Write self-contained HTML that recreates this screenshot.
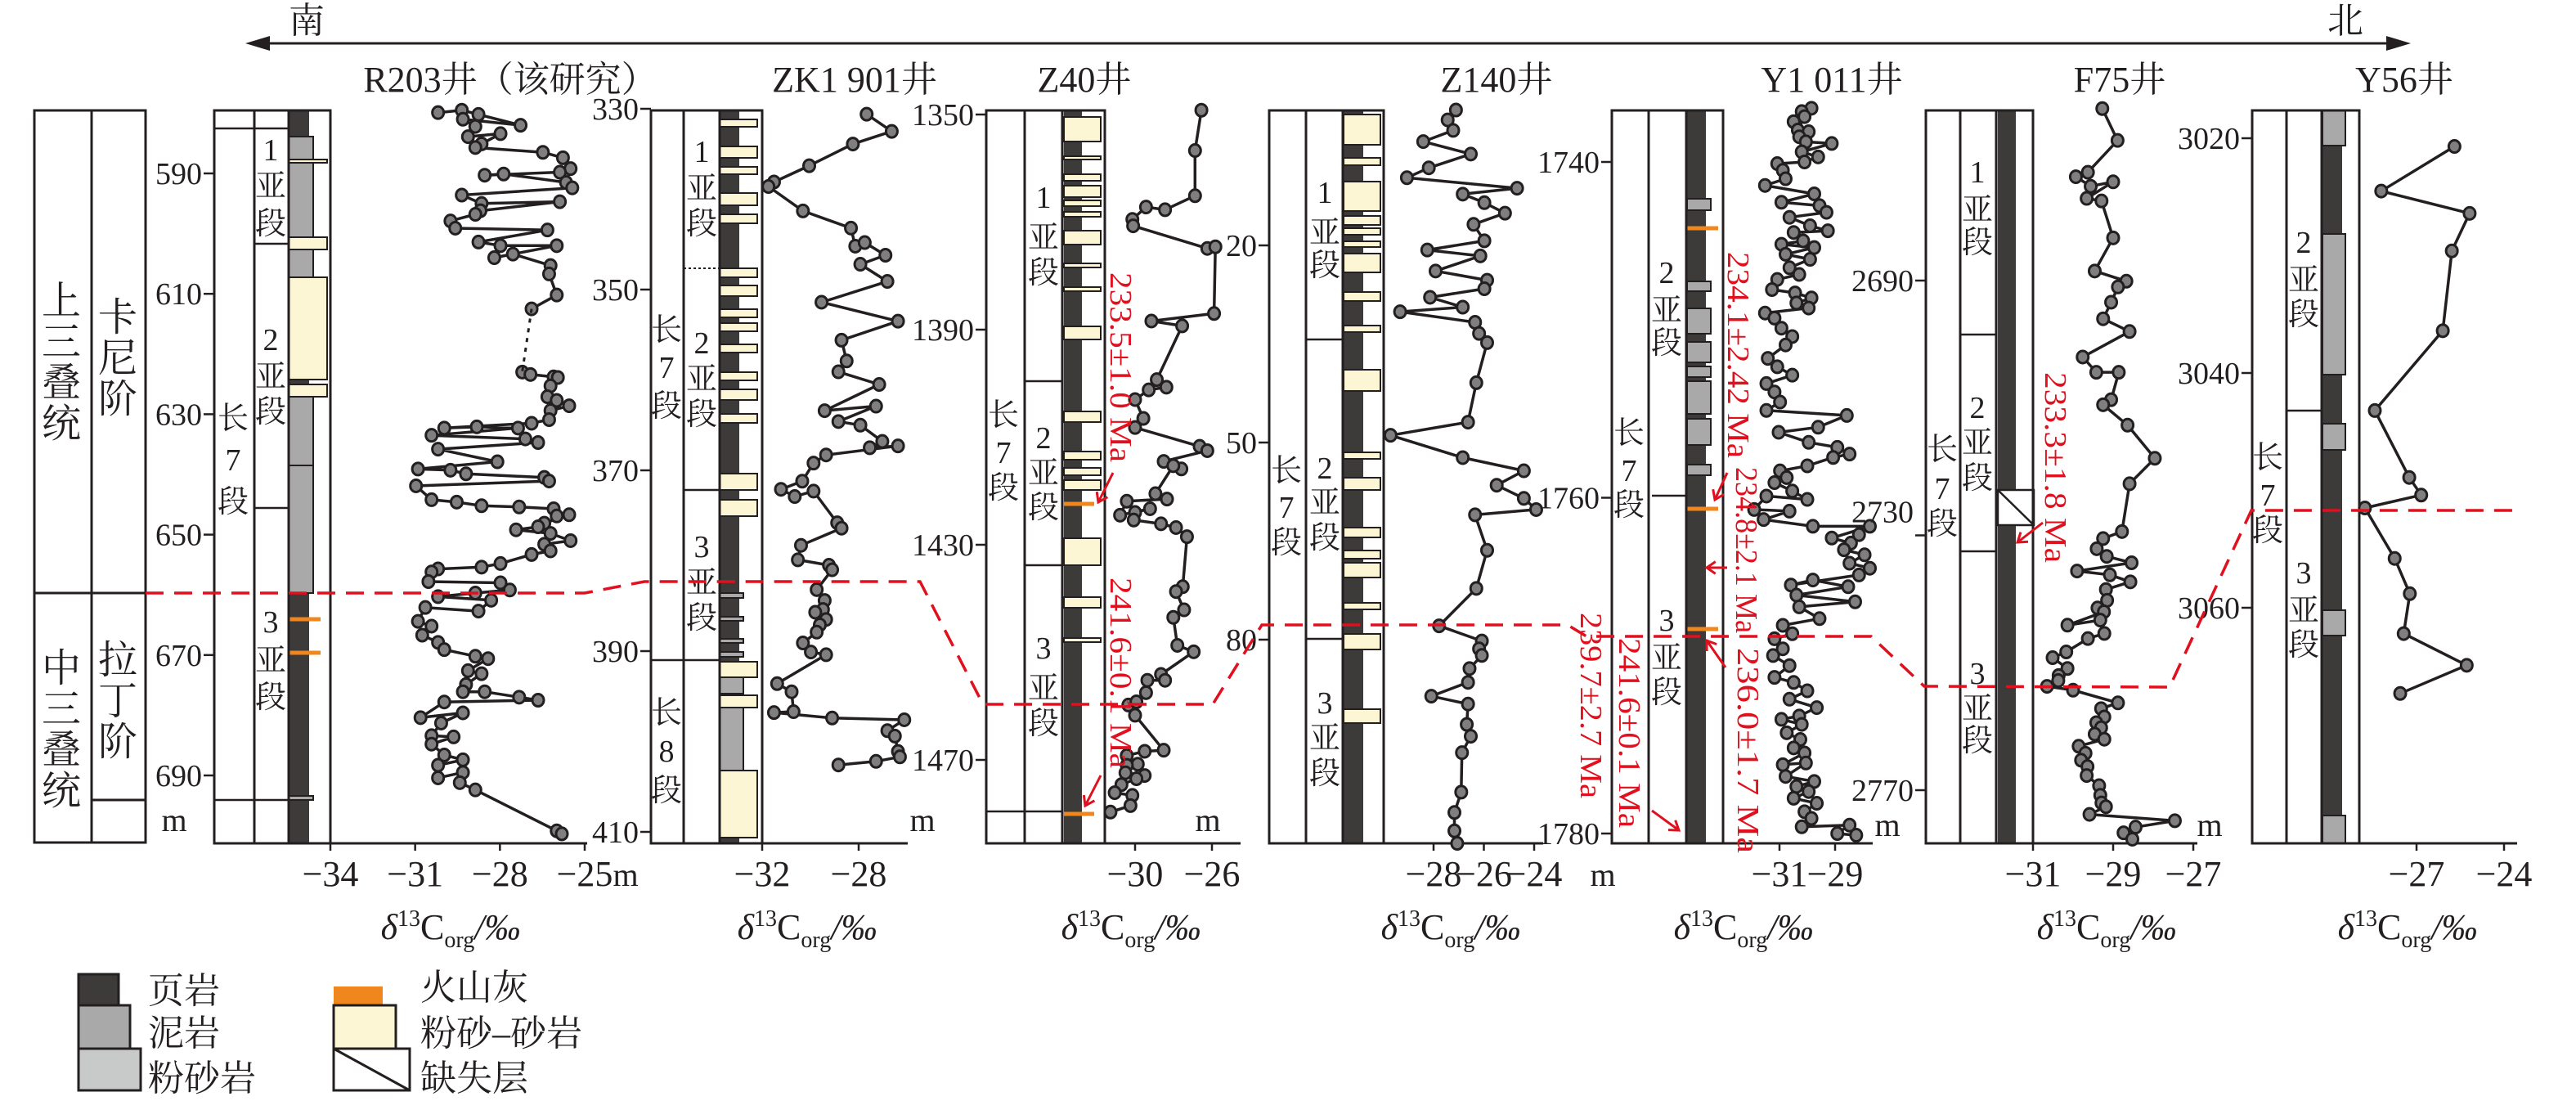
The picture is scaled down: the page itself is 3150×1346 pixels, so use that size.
<!DOCTYPE html>
<html><head><meta charset="utf-8"><style>
html,body{margin:0;padding:0;background:#fff}
svg{display:block}
text{font-family:"Liberation Serif","Noto Serif CJK SC",serif;fill:#231f20}
</style></head><body>
<svg id="chart" xmlns="http://www.w3.org/2000/svg" width="3150" height="1346" viewBox="0 0 3150 1346">
<g>
<line x1="310" y1="53" x2="2935" y2="53" stroke="#231f20" stroke-width="3"/>
<polygon points="300,53 330,44 330,62" fill="#231f20"/>
<polygon points="2948,53 2918,44 2918,62" fill="#231f20"/>
<text x="375" y="40" font-size="44" text-anchor="middle">南</text>
<text x="2868" y="40" font-size="44" text-anchor="middle">北</text>
</g>
<g font-size="44" text-anchor="middle">
<text x="624" y="112">R203井（该研究）</text>
<text x="1045" y="112">ZK1 901井</text>
<text x="1326" y="112">Z40井</text>
<text x="1830" y="112">Z140井</text>
<text x="2240" y="112">Y1 011井</text>
<text x="2592" y="112">F75井</text>
<text x="2940" y="112">Y56井</text>
</g>
<g fill="none" stroke="#231f20" stroke-width="3">
<rect x="42" y="135" width="136" height="895"/>
<line x1="112" y1="135" x2="112" y2="1030"/>
<line x1="42" y1="725" x2="178" y2="725"/>
<line x1="112" y1="978" x2="178" y2="978"/>
</g>
<g font-size="48" text-anchor="middle">
<text x="75" y="0"><tspan x="75" y="384">上</tspan><tspan x="75" y="434">三</tspan><tspan x="75" y="484">叠</tspan><tspan x="75" y="534">统</tspan></text>
<text x="144" y="0"><tspan x="144" y="404">卡</tspan><tspan x="144" y="454">尼</tspan><tspan x="144" y="504">阶</tspan></text>
<text x="75" y="0"><tspan x="75" y="833">中</tspan><tspan x="75" y="883">三</tspan><tspan x="75" y="933">叠</tspan><tspan x="75" y="983">统</tspan></text>
<text x="144" y="0"><tspan x="144" y="823">拉</tspan><tspan x="144" y="873">丁</tspan><tspan x="144" y="923">阶</tspan></text>
</g>
<g id="legend" stroke="#231f20" stroke-width="3">
<rect x="96" y="1191" width="49" height="38" fill="#3d3a3a"/>
<rect x="96" y="1229" width="63" height="53" fill="#a9a9a9"/>
<rect x="96" y="1282" width="76" height="51" fill="#c8c9c9"/>
<rect x="408" y="1206" width="60" height="23" fill="#f0871e" stroke="none"/>
<rect x="408" y="1229" width="76" height="53" fill="#fdf6d5"/>
<rect x="408" y="1282" width="93" height="51" fill="#fff"/>
<line x1="408" y1="1282" x2="501" y2="1333"/>
</g>
<g font-size="44">
<text x="181" y="1226">页岩</text>
<text x="181" y="1278">泥岩</text>
<text x="181" y="1333">粉砂岩</text>
<text x="514" y="1222">火山灰</text>
<text x="514" y="1278">粉砂–砂岩</text>
<text x="514" y="1333">缺失层</text>
</g>
</svg>
<script>
// ---------- data ----------
const r203ValA=[-30.19,-29.35,-28.76,-27.27,-29.31,-28.87,-29.13,-27.98,-28.65,-28.87,-26.48,-25.77,-25.5,-25.88,-28.54,-27.87,-25.66,-25.44,-29.35,-28.65,-25.88,-28.69,-28.87,-29.75,-29.58,-26.32,-28.76,-27.98,-25.99,-28.2,-27.54,-26.21,-26.26,-25.99,-26.88];
const r203DepA=[579.9,579.5,580.2,582.0,581.0,582.2,583.9,583.4,585.1,585.7,586.5,587.4,589.2,589.8,590.3,590.1,591.5,592.4,593.6,595.0,594.7,596.2,596.8,597.9,599.1,599.4,601.4,602.0,602.0,604.0,603.4,605.3,606.7,610.2,612.5];
const r203ValB=[-27.21,-26.92,-26.1,-25.95,-26.21,-26.32,-25.99,-25.55,-26.21,-26.26,-26.88,-29.97,-28.82,-27.36,-30.42,-27.1,-26.65,-30.19,-28.09,-30.9,-29.75,-29.2,-26.43,-26.26,-30.97,-30.42,-29.53,-28.65,-27.32,-26.1,-25.99,-25.55,-26.43,-26.65,-27.43,-26.21,-25.5,-26.43,-26.21,-26.88,-27.98,-28.65,-30.19,-30.42,-30.53,-27.98,-27.65,-28.87,-30.19,-28.31,-28.76,-30.64,-30.9,-30.42,-30.75,-30.19,-29.97,-28.87,-28.42,-29.13,-28.65,-29.2,-29.31,-28.54,-27.32,-26.65,-29.97,-30.81,-29.31,-30.08,-30.42,-29.64,-30.42,-29.97,-29.31,-30.19,-30.19,-29.31,-29.42,-28.87,-25.99,-25.81];
const r203DepB=[623.0,623.4,623.8,623.9,625.3,627.1,627.7,628.6,629.4,630.9,631.5,632.3,632.1,632.3,633.5,634.1,634.7,635.8,637.9,639.1,639.3,639.9,640.5,641.1,641.9,644.2,644.6,645.2,645.4,645.7,646.9,646.7,648.1,648.7,649.2,649.8,651.0,651.6,652.7,653.3,654.8,655.4,655.7,656.2,657.8,658.0,659.2,659.7,660.3,660.9,662.7,662.1,664.4,665.2,666.7,667.9,669.1,670.2,670.6,672.6,673.1,674.9,676.1,676.1,677.0,677.5,677.8,680.4,679.6,681.3,683.4,683.6,684.8,686.6,687.4,688.3,690.4,689.5,691.2,692.4,699.2,699.7];
const r203DepthTicks=[590,610,630,650,670,690];
const r203ValTicks=[-34,-31,-28,-25];

const zkVal=[-27.67,-26.63,-28.24,-30.05,-31.51,-31.74,-30.31,-28.32,-28.14,-27.75,-26.89,-27.93,-26.81,-29.54,-26.37,-28.71,-28.5,-28.84,-27.15,-29.41,-27.28,-28.84,-27.93,-27.02,-27.54,-26.37,-29.35,-29.87,-30.34,-31.22,-30.65,-29.87,-28.89,-28.71,-30.39,-30.52,-29.23,-29.1,-29.74,-29.41,-29.48,-29.8,-29.35,-29.61,-29.74,-30.31,-29.98,-29.35,-31.38,-30.78,-30.7,-31.51,-29.1,-26.11,-26.81,-26.5,-26.37,-26.29,-27.28,-28.84];
const zkDep=[330.6,332.5,333.9,336.3,338.1,338.6,341.3,343.2,345.2,344.8,346.2,347.2,349.1,351.4,353.5,355.6,357.9,359.1,360.5,363.4,362.9,364.6,365.0,366.8,367.5,367.3,368.3,369.2,371.2,372.1,372.9,372.3,375.8,376.4,378.3,379.9,380.5,381.0,383.2,384.4,385.4,385.7,386.5,387.1,387.9,389.1,390.1,390.4,393.6,394.5,396.7,396.8,397.4,397.6,398.8,399.4,401.1,401.7,402.2,402.6];
const zkDepthTicks=[330,350,370,390,410];
const zkValTicks=[-32,-28];

const z40Val=[-26.55,-26.88,-26.88,-28.44,-29.43,-30.14,-30.1,-26.24,-25.82,-25.89,-29.15,-27.55,-28.87,-28.37,-29.29,-30,-29.57,-30,-26.64,-26.24,-28.51,-27.59,-28.01,-28.94,-28.34,-30.43,-30.78,-29.22,-30,-30.07,-28.65,-27.87,-27.3,-27.52,-27.87,-27.45,-28.01,-27.8,-26.95,-28.65,-28.44,-29.36,-29.43,-30.35,-29.93,-30,-28.51,-29.5,-30.43,-29.86,-30.43,-30.5,-29.5,-29.93,-30.71,-31.06,-30.14,-30.24,-31.28];
const z40Dep=[1349.2,1356.7,1365.1,1367.7,1367.2,1369.5,1370.7,1374.9,1374.6,1387.0,1388.4,1389.3,1399.3,1400.7,1401.2,1403.0,1406.5,1408.2,1411.7,1412.5,1414.5,1415.9,1415.3,1420.5,1421.5,1421.9,1424.5,1423.3,1424.0,1425.4,1426.1,1426.8,1428.5,1437.8,1438.7,1442.1,1443.5,1448.7,1449.9,1454.1,1455.2,1455.2,1457.5,1459.8,1459.2,1461.7,1468.2,1468.4,1469.2,1470.8,1471.0,1472.4,1472.9,1473.5,1474.6,1476.1,1476.6,1478.5,1479.7];
const z40DepthTicks=[1350,1390,1430,1470];
const z40ValTicks=[-30,-26];

const z140Val=[-27.11,-27.44,-27.22,-28.41,-26.52,-28.19,-29.06,-24.68,-26.84,-25.98,-25.16,-26.41,-25.98,-28.25,-26.14,-27.92,-25.87,-25.98,-28.14,-26.84,-29.33,-26.35,-26.19,-25.87,-26.3,-26.63,-29.71,-26.84,-24.41,-25.49,-24.41,-23.92,-26.35,-25.87,-26.3,-27.78,-26.08,-26.19,-26.08,-26.57,-26.63,-28.09,-26.63,-26.68,-26.52,-26.87,-26.9,-27.17,-27.17,-27.06];
const z140Dep=[-0.6,0.9,2.5,4.2,6.1,8.2,9.7,11.3,12.2,13.5,15.1,16.8,19.3,20.7,21.6,23.9,25.3,26.6,27.9,29.4,30.1,31.7,33.4,34.8,40.9,46.9,48.9,52.3,54.3,56.5,58.5,60.2,61.0,66.4,72.2,77.9,80.2,81.4,82.4,84.4,86.5,88.6,89.8,92.9,94.7,97.2,103.2,106.3,109.1,111.0];
const z140DepthTicks=[20,50,80];
const z140ValTicks=[-28,-26,-24];

const y1011Val=[-29.85,-30.2,-30.49,-30.1,-30.34,-29.95,-30.29,-30.05,-29.12,-30.2,-29.61,-30.1,-31.08,-30.88,-30.78,-31.52,-29.75,-30.93,-29.56,-29.31,-30.64,-29.9,-29.26,-30.49,-30.15,-30.93,-29.75,-30.78,-29.9,-30.64,-30.29,-31.08,-31.27,-30.44,-29.85,-30.39,-29.95,-31.52,-31.18,-30.93,-30.54,-30.78,-31.42,-31.08,-30.54,-31.47,-31.18,-30.98,-31.47,-28.58,-29.61,-31.03,-29.95,-28.92,-28.48,-29.07,-30.0,-30.98,-30.74,-31.18,-30.54,-30.0,-31.47,-31.91,-30.64,-31.57,-29.8,-27.75,-29.12,-28.43,-28.14,-28.68,-27.94,-28.48,-27.75,-28.14,-30.59,-29.8,-28.53,-30.39,-28.28,-30.29,-29.56,-30.88,-30.54,-31.18,-30.88,-31.23,-30.64,-31.18,-30.49,-30.0,-30.64,-29.66,-30.29,-30.93,-30.2,-30.74,-30.25,-30.49,-30.1,-30.88,-30.05,-30.78,-29.75,-30.39,-29.95,-30.49,-29.66,-30.1,-29.85,-30.2,-28.48,-28.92,-28.24];
const y1011Dep=[1736.8,1737.0,1737.6,1737.3,1738.1,1738.2,1738.5,1738.8,1738.9,1739.4,1739.7,1740.0,1740.1,1740.5,1741.0,1741.4,1741.9,1742.4,1742.6,1743.0,1743.3,1743.8,1744.1,1744.2,1744.7,1744.9,1745.1,1745.5,1745.8,1746.3,1746.7,1747.0,1747.6,1747.8,1748.1,1748.4,1748.7,1749.0,1749.3,1749.9,1750.4,1750.9,1751.7,1752.2,1752.7,1753.2,1753.7,1754.3,1754.8,1755.1,1755.8,1756.1,1756.7,1757.0,1757.4,1757.6,1758.1,1758.4,1758.8,1759.1,1759.6,1760.1,1759.9,1760.7,1760.8,1761.3,1761.7,1761.7,1762.4,1762.7,1762.2,1763.1,1763.4,1763.9,1764.2,1764.6,1765.2,1764.9,1765.3,1765.8,1766.2,1766.5,1767.2,1767.6,1768.1,1768.4,1769.0,1769.4,1770.0,1770.7,1771.0,1771.5,1772.0,1772.5,1773.0,1773.2,1773.5,1774.0,1774.4,1774.9,1775.2,1775.9,1775.8,1776.6,1776.9,1777.2,1777.5,1777.9,1778.2,1778.7,1779.1,1779.6,1779.5,1780.0,1780.1];
const y1011DepthTicks=[1740,1760,1780];
const y1011ValTicks=[-31,-29];

const f75Val=[-29.27,-28.89,-29.63,-29.93,-29.56,-29.0,-29.66,-29.29,-29.0,-29.46,-28.67,-28.88,-29.05,-29.25,-28.59,-29.76,-29.42,-28.86,-29.05,-29.25,-28.64,-27.96,-28.59,-28.78,-29.25,-29.41,-29.16,-28.54,-29.9,-29.08,-28.57,-29.18,-29.15,-29.39,-29.23,-30.14,-29.32,-29.22,-29.63,-30.17,-30.51,-30.14,-30.36,-30.37,-30.65,-30.0,-28.88,-29.3,-29.22,-29.42,-29.3,-29.46,-29.22,-29.86,-29.69,-29.8,-29.64,-29.66,-29.35,-29.32,-29.29,-29.18,-29.59,-27.46,-28.44,-28.74,-28.52];
const f75Dep=[2663.0,2668.0,2673.0,2673.7,2675.2,2674.5,2677.1,2677.5,2683.3,2688.5,2690.1,2691.0,2693.4,2696.0,2698.0,2702.0,2704.4,2704.4,2708.7,2709.5,2712.7,2717.9,2721.9,2729.4,2730.5,2732.1,2733.3,2734.3,2735.6,2736.2,2737.3,2738.5,2740.2,2741.4,2742.0,2744.1,2743.3,2745.4,2746.2,2748.3,2749.2,2750.9,2752.0,2752.8,2753.7,2754.3,2756.3,2757.2,2758.5,2759.4,2760.2,2761.2,2762.0,2763.1,2764.2,2765.3,2766.3,2767.7,2769.3,2770.8,2772.0,2772.6,2773.8,2774.8,2775.8,2776.7,2777.7];
const f75DepthTicks=[2690,2730,2770];
const f75ValTicks=[-31,-29,-27];

const y56Val=[-25.7,-28.21,-25.18,-25.79,-26.1,-28.43,-27.25,-26.84,-28.77,-27.75,-27.23,-27.44,-25.28,-27.56];
const y56Dep=[3020.7,3024.5,3026.4,3029.6,3036.4,3043.2,3048.9,3050.4,3051.5,3055.8,3058.8,3062.2,3064.9,3067.3];
const y56DepthTicks=[3020,3040,3060];
const y56ValTicks=[-27,-24];

// ---------- helpers ----------
const NS='http://www.w3.org/2000/svg';
const svg=document.getElementById('chart');
const legend=document.getElementById('legend');
function mk(tag,attrs,parent){const e=document.createElementNS(NS,tag);for(const k in attrs)e.setAttribute(k,attrs[k]);(parent||svg).insertBefore(e,parent?null:legend);return e;}
function lin(d0,d1,r0,r1){return v=>r0+(v-d0)*(r1-r0)/(d1-d0);}
const INK='#231f20';
const FILL={Y:'#fdf6d5',S:'#c8c9c9',M:'#a9a9a9'};

function drawWell(w){
  const g=mk('g',{});
  
  
  // lithology base
  const base=mk('rect',{x:w.x0,y:135,width:w.xd-w.x0,height:896,fill:'#3d3a3a'},g);
  
  
  w.beds.forEach(b=>{
    const k=b[0];
    if(k==='O'){
      const o=mk('line',{x1:w.x0,x2:w.xo,y1:b[1],y2:b[1],stroke:'#f0871e','stroke-width':5},g);
      
      
    } else if(k==='X'){
      const r=mk('rect',{x:w.x0,y:b[1],width:w.xx-w.x0,height:b[2]-b[1],fill:'#fff',stroke:INK,'stroke-width':2.5},g);
      
      
      mk('line',{x1:w.x0,y1:b[1],x2:w.xx,y2:b[2],stroke:INK,'stroke-width':2.5},g);
    } else {
      const xe=k==='Y'?w.xy:(k==='S'?w.xs:w.xm);
      const r=mk('rect',{x:w.x0,y:b[1],width:xe-w.x0,height:b[2]-b[1],fill:FILL[k],stroke:INK,'stroke-width':2},g);
      
      
    }
  });
  // frame
  const fr=mk('rect',{x:w.bx0,y:135,width:w.bx1-w.bx0,height:896,fill:'none',stroke:INK,'stroke-width':3},g);
  
  
  mk('line',{x1:w.c1,x2:w.c1,y1:135,y2:1031,stroke:INK,'stroke-width':3},g);
  mk('line',{x1:w.c2,x2:w.c2,y1:135,y2:1031,stroke:INK,'stroke-width':3},g);
  w.hlines.forEach(h=>{mk('line',{x1:h[1],x2:h[2],y1:h[0],y2:h[0],stroke:INK,'stroke-width':h[3]?2:2.5,'stroke-dasharray':h[3]?'3,3':'none'},g);});
  // unit labels
  w.labels.forEach(l=>{
    const t=mk('text',{x:l.x,'font-size':38,'text-anchor':'middle'},g);
    
    
    l.t.forEach((c,i)=>{const s=mk('tspan',{x:l.x,y:l.y[i]+13},t);s.textContent=c;});
  });
  // depth axis
  w.depthTicks.forEach((d,i)=>{
    const y=w.ys(d);
    mk('line',{x1:w.bx0-13,x2:w.bx0,y1:y,y2:y,stroke:INK,'stroke-width':2.5},g);
    const t=mk('text',{x:w.bx0-15,y:y+13+(w.tdy?w.tdy[i]:0),'font-size':38,'text-anchor':'end'},g);
    
    
    t.textContent=d;
  });
  // value axis
  mk('line',{x1:w.bx1,x2:w.ax1,y1:1031,y2:1031,stroke:INK,'stroke-width':3},g);
  w.valTicks.forEach(v=>{
    const x=w.xs(v);
    mk('line',{x1:x,x2:x,y1:1031,y2:1040,stroke:INK,'stroke-width':2.5},g);
    const t=mk('text',{x:x,y:1083,'font-size':44,'text-anchor':'middle'},g);
    
    
    t.textContent=(v<0?'−'+(-v):v);
  });
  const at=mk('text',{x:w.tx,y:1148,'font-size':44,'text-anchor':'middle'},g);
  
  
  at.innerHTML='<tspan font-style="italic">δ</tspan><tspan font-size="28" dy="-16">13</tspan><tspan dy="16">C</tspan><tspan font-size="28" dy="10">org</tspan><tspan dy="-10" font-style="italic">/‰</tspan>';
  return g;
}
function drawSeries(g,name,vals,deps,xs,ys){
  const pts=vals.map((v,i)=>xs(v).toFixed(1)+','+ys(deps[i]).toFixed(1)).join(' ');
  const pl=mk('polyline',{points:pts,fill:'none',stroke:INK,'stroke-width':3.5,'stroke-linejoin':'round'},g);
  
  
  vals.forEach((v,i)=>{
    const c=mk('ellipse',{cx:xs(v),cy:ys(deps[i]),rx:7,ry:7.5,fill:'#7f7f7f',stroke:INK,'stroke-width':3},g);
    
    
  });
}

// ---------- wells ----------
const wells=[
 {id:'r203',bx0:262,bx1:404,c1:311,c2:353,x0:353,xd:378,xy:400,xs2:0,xs:392,xm:383,xo:392,ax1:718,
  ys:lin(590,690,212,948),xs:null,tx:551,depthTicks:r203DepthTicks,valTicks:r203ValTicks,
  hlines:[[157,262,353],[978,262,353],[298,311,353],[621,311,353]],
  beds:[['M',167,339],['S',146,155],['Y',195,199],['S',243,247],['Y',290,305],['Y',339,464],['Y',470,485],['M',485,569],['S',511,515],['S',522,526],['S',539,569],['M',569,725],['O',757],['O',798],['S',863,876],['M',973,978],['S',978,1030]],
  labels:[{x:285,y:[511,562,613],t:['长','7','段']},{x:331,y:[183,227,273],t:['1','亚','段']},{x:331,y:[415,460,503],t:['2','亚','段']},{x:331,y:[760,807,852],t:['3','亚','段']}]},
 {id:'zk1901',bx0:796,bx1:932,c1:836,c2:880,x0:880,xd:904,xy:926,xs:918,xm:909,xo:918,ax1:1110,
  ys:lin(330,410,133,1017),tx:987,depthTicks:zkDepthTicks,valTicks:zkValTicks,
  hlines:[[807,796,880],[328,836,880,1],[599,836,880]],
  beds:[['Y',146,155],['Y',179,193],['Y',204,213],['Y',236,251],['Y',262,273],['Y',328,339],['Y',349,362],['Y',378,388],['Y',395,405],['Y',421,431],['Y',455,465],['Y',476,489],['Y',506,517],['Y',579,599],['Y',611,631],['M',725,731],['M',754,759],['M',781,786],['M',797,803],['Y',809,828],['M',828,848],['Y',850,865],['M',865,942],['Y',942,1024]],
  labels:[{x:815,y:[403,449,496],t:['长','7','段']},{x:815,y:[871,918,966],t:['长','8','段']},{x:858,y:[185,230,273],t:['1','亚','段']},{x:858,y:[419,463,506],t:['2','亚','段']},{x:858,y:[668,712,755],t:['3','亚','段']}]},
 {id:'z40',bx0:1206,bx1:1351,c1:1253,c2:1299,x0:1301,xd:1323,xy:1346,xs:1337,xm:1330,xo:1338,ax1:1517,
  ys:lin(1350,1470,140,929),tx:1383,depthTicks:z40DepthTicks,valTicks:z40ValTicks,
  hlines:[[992,1206,1299],[466,1253,1299],[691,1253,1299]],
  beds:[['Y',143,173],['Y',191,195],['Y',213,221],['Y',227,241],['Y',245,252],['Y',259,265],['Y',282,299],['S',307,351],['Y',322,327],['Y',351,356],['S',357,383],['Y',399,415],['S',417,466],['Y',503,516],['S',525,540],['Y',552,562],['Y',572,581],['Y',587,599],['O',616],['S',647,653],['Y',658,691],['Y',730,743],['S',763,778],['Y',780,785],['S',800,815],['O',995]],
  labels:[{x:1227,y:[507,553,596],t:['长','7','段']},{x:1276,y:[241,290,333],t:['1','亚','段']},{x:1276,y:[535,578,620],t:['2','亚','段']},{x:1276,y:[792,841,884],t:['3','亚','段']}]},
 {id:'z140',bx0:1552,bx1:1692,c1:1597,c2:1642,x0:1643,xd:1667,xy:1688,xs:1680,xm:1672,xo:1680,ax1:1887,
  ys:lin(20,80,300,782),tx:1774,depthTicks:z140DepthTicks,valTicks:z140ValTicks,
  hlines:[[415,1597,1642],[781,1597,1642]],
  beds:[['Y',140,177],['S',178,183],['Y',193,202],['S',211,221],['Y',222,258],['Y',264,275],['Y',279,287],['Y',295,302],['Y',310,333],['S',338,356],['Y',357,368],['S',369,396],['Y',398,406],['S',409,437],['Y',452,478],['S',481,539],['Y',553,561],['Y',584,599],['S',611,632],['Y',645,657],['Y',673,683],['Y',688,706],['Y',737,745],['S',760,766],['Y',775,794],['Y',867,884],['S',910,928],['S',954,973]],
  labels:[{x:1573,y:[575,620,663],t:['长','7','段']},{x:1620,y:[235,284,324],t:['1','亚','段']},{x:1620,y:[572,614,657],t:['2','亚','段']},{x:1620,y:[859,902,945],t:['3','亚','段']}]},
 {id:'y1011',bx0:1971,bx1:2107,c1:2016,c2:2062,x0:2063,xd:2086,xy:2101,xs:2099,xm:2092,xo:2101,ax1:2290,
  ys:lin(1740,1780,198,1019),tx:2132,depthTicks:y1011DepthTicks,valTicks:y1011ValTicks,
  hlines:[[606,2020,2062]],
  beds:[['S',165,173],['S',207,238],['M',243,257],['O',279],['M',344,356],['M',377,408],['M',418,443],['M',448,461],['M',466,506],['M',512,544],['M',568,581],['S',583,605],['O',622],['O',769]],
  labels:[{x:1992,y:[529,575,617],t:['长','7','段']},{x:2038,y:[333,379,419],t:['2','亚','段']},{x:2038,y:[758,804,846],t:['3','亚','段']}]},
 {id:'f75',bx0:2355,bx1:2486,c1:2397,c2:2441,x0:2443,xd:2465,xy:2480,xs:2480,xm:2475,xo:2480,xx:2487,ax1:2687,
  ys:lin(2690,2770,343,966),tdy:[0,-29,0],tx:2576,depthTicks:f75DepthTicks,valTicks:f75ValTicks,
  hlines:[[409,2397,2441],[674,2397,2441]],
  beds:[['S',310,328],['S',409,421],['X',599,642],['S',844,872]],
  labels:[{x:2375,y:[549,597,640],t:['长','7','段']},{x:2418,y:[210,256,296],t:['1','亚','段']},{x:2418,y:[498,541,584],t:['2','亚','段']},{x:2418,y:[823,866,905],t:['3','亚','段']}]},
 {id:'y56',bx0:2754,bx1:2885,c1:2796,c2:2839,x0:2840,xd:2864,xy:2878,xs:2878,xm:2868,xo:2878,ax1:3078,
  ys:lin(3020,3060,169,743),tx:2944,depthTicks:y56DepthTicks,valTicks:y56ValTicks,
  hlines:[[502,2796,2839]],
  beds:[['M',135,178],['M',286,458],['M',518,550],['S',725,744],['M',746,777],['M',997,1031]],
  labels:[{x:2773,y:[559,605,648],t:['长','7','段']},{x:2817,y:[296,342,384],t:['2','亚','段']},{x:2817,y:[700,746,788],t:['3','亚','段']}]}
];
const xScales={r203:lin(-34,-25,404,715),zk1901:lin(-32,-28,932,1050),z40:lin(-30,-26,1388,1482),z140:lin(-28,-24,1753,1876),y1011:lin(-31,-29,2176,2244),f75:lin(-31,-27,2486,2682),y56:lin(-27,-24,2955,3062)};
const series={zk1901:[zkVal,zkDep],z40:[z40Val,z40Dep],z140:[z140Val,z140Dep],y1011:[y1011Val,y1011Dep],f75:[f75Val,f75Dep],y56:[y56Val,y56Dep]};

// boundary dashed line first (drawn under marks)
const groups={};
wells.forEach(w=>{w.xs=xScales[w.id];groups[w.id]=drawWell(w);});

const bd=mk('polyline',{points:'178,725 715,725 788,711 1125,711 1202,861 1483,861 1543,764 1917,764 1940,778 2288,778 2353,839 2653,840 2753,624 3075,624',fill:'none',stroke:'#e0101e','stroke-width':3.5,'stroke-dasharray':'22,13'});



// R203 series (two segments joined by dotted gap)
const rw=wells[0];
const dot=mk('line',{x1:rw.xs(r203ValA[r203ValA.length-1]),y1:rw.ys(r203DepA[r203DepA.length-1]),x2:rw.xs(r203ValB[0]),y2:rw.ys(r203DepB[0]),stroke:INK,'stroke-width':3,'stroke-dasharray':'5,7'});


drawSeries(groups.r203,'r203-upper',r203ValA,r203DepA,rw.xs,rw.ys);
drawSeries(groups.r203,'r203-lower',r203ValB,r203DepB,rw.xs,rw.ys);
wells.slice(1).forEach(w=>{const s=series[w.id];drawSeries(groups[w.id],w.id,s[0],s[1],w.xs,w.ys);});

// unit "m" labels
[[213,1016],[765,1083],[1128,1016],[1477,1016],[1960,1083],[2308,1022],[2702,1022]].forEach(p=>{
  const t=mk('text',{x:p[0],y:p[1],'font-size':40,'text-anchor':'middle'});
  
  
  t.textContent='m';
});

// age annotations
const ages=[['233.5±1.0 Ma',1358,333,232],['241.6±0.1 Ma',1358,706,233],['234.1±2.42 Ma',2113,308,252],['234.8±2.1 Ma',2123,571,203],['236.0±1.7 Ma',2125,792,251],['241.6±0.1 Ma',1980,780,232],['239.7±2.7 Ma',1933,749,227],['233.3±1.8 Ma',2501,455,233]];
ages.forEach(a=>{
  const t=mk('text',{transform:'translate('+a[1]+','+a[2]+') rotate(90)','font-size':38,textLength:a[3],lengthAdjust:'spacingAndGlyphs',style:'fill:#e0101e'});
  
  
  t.textContent=a[0];
});
const arrows=[[1361,578,1343,614],[1346,948,1327,985],[2112,578,2097,611],[2112,694,2087,694],[2110,816,2087,783],[2020,991,2053,1015],[2498,639,2467,663]];
arrows.forEach(a=>{
  const g=mk('g',{});
  
  
  mk('line',{x1:a[0],y1:a[1],x2:a[2],y2:a[3],stroke:'#e0101e','stroke-width':3},g);
  const ang=Math.atan2(a[3]-a[1],a[2]-a[0]);
  const L=13,W=0.6;
  const p1=[a[2]-L*Math.cos(ang-W),a[3]-L*Math.sin(ang-W)],p2=[a[2]-L*Math.cos(ang+W),a[3]-L*Math.sin(ang+W)];
  mk('polyline',{points:p1.join(',')+' '+a[2]+','+a[3]+' '+p2.join(','),fill:'none',stroke:'#e0101e','stroke-width':3},g);
});
</script>
</body></html>
